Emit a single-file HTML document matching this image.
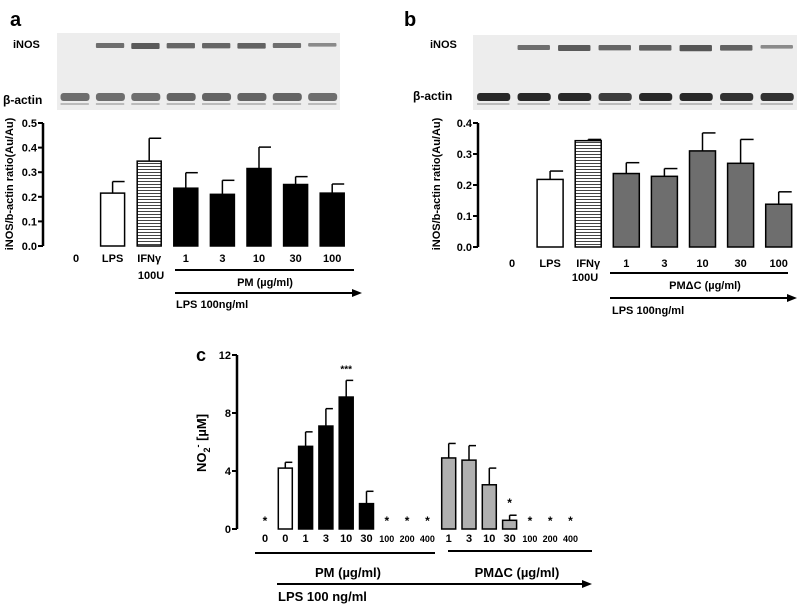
<!DOCTYPE html>
<html><head><meta charset="utf-8"><style>
body{margin:0;background:#fff;}
svg{display:block;font-family:"Liberation Sans",Arial,sans-serif;font-weight:bold;}
</style></head><body>
<svg id="fig" width="798" height="605" viewBox="0 0 798 605" xmlns="http://www.w3.org/2000/svg">
<g id="static">
  <text x="10" y="26" font-size="20">a</text>
  <text x="404" y="26" font-size="20">b</text>
  <text x="196" y="361" font-size="18">c</text>
</g>
<g id="blots"></g>
<g id="pa"></g><g id="pb"></g><g id="pc"></g>
</svg>
<script>
const NS="http://www.w3.org/2000/svg";
function mk(parent,tag,attrs,txt){const e=document.createElementNS(NS,tag);for(const k in attrs)e.setAttribute(k,attrs[k]);if(txt!==undefined)e.textContent=txt;parent.appendChild(e);return e;}

// ---- data ----
const catsA=["0","LPS","IFNγ","1","3","10","30","100"];
const valsA=[0,0.215,0.345,0.235,0.21,0.315,0.25,0.215];
const errA=[0,0.262,0.438,0.298,0.267,0.402,0.282,0.252];
const ticksA=[0,0.1,0.2,0.3,0.4,0.5];
const catsB=["0","LPS","IFNγ","1","3","10","30","100"];
const valsB=[0,0.218,0.343,0.237,0.228,0.31,0.27,0.138];
const errB=[0,0.245,0.347,0.272,0.253,0.368,0.347,0.178];
const ticksB=[0,0.1,0.2,0.3,0.4];
const catsC=["0","0","1","3","10","30","100","200","400","1","3","10","30","100","200","400"];
const valsC=[0,4.2,5.7,7.1,9.1,1.75,0,0,0,4.9,4.75,3.05,0.6,0,0,0];
const errC=[0,4.6,6.7,8.3,10.25,2.6,0,0,0,5.9,5.75,4.2,0.95,0,0,0];
const sigC=["*","","","","***","","*","*","*","","","","*","*","*","*"];
const ticksC=[0,4,8,12];

// ---- blots ----
const bl=document.getElementById('blots');
function blot(x,y,w,h,lanes,iStr,aStr,name){
  const g=mk(bl,'g',{});
  
  
  mk(g,'rect',{x:x,y:y,width:w,height:h,fill:'#ededed'});
  const lw=w/lanes;
  for(let i=0;i<lanes;i++){
    const cx=x+lw*i+lw*0.1;
    if(iStr[i]>0) mk(g,'rect',{x:cx,y:y+10,width:lw*0.8,height:3+iStr[i]*2,fill:'rgb('+(150-iStr[i]*40)+','+(150-iStr[i]*40)+','+(150-iStr[i]*40)+')',rx:1});
    mk(g,'rect',{x:cx,y:y+h-17,width:lw*0.82,height:8,fill:'rgb('+aStr[i]+','+aStr[i]+','+aStr[i]+')',rx:3});
    mk(g,'rect',{x:cx,y:y+h-7,width:lw*0.8,height:2,fill:'#bbb'});
  }
}
blot(57,33,283,77,8,[0,1,1.5,1.2,1.2,1.3,1,0.3],[110,110,110,100,100,100,100,110],'western-blot-a');
blot(473,35,324,75,8,[0,1,1.5,1.2,1.3,1.6,1.3,0.3],[40,40,40,60,40,40,50,50],'western-blot-b');
function t(p,x,y,s,txt,name,anchor){const e=mk(p,'text',{x:x,y:y,'font-size':s,'text-anchor':anchor||'start'},txt);return e;}
t(bl,13,48,11,'iNOS','inos-label-a');
t(bl,3,104,12,'β-actin','beta-actin-label-a');
t(bl,430,48,11,'iNOS','inos-label-b');
t(bl,413,100,12,'β-actin','beta-actin-label-b');

// ---- bar panel generic ----
function panel(gid,o){
  const g=document.getElementById(gid);
  const y=v=>o.y0-(v-o.vmin)/(o.vmax-o.vmin)*(o.y0-o.y1);
  const x=i=>o.xs0+i*o.step+(o.gapAt!==undefined&&i>=o.gapAt?o.gap:0);
  const ax=mk(g,'line',{x1:o.ax,y1:o.y1,x2:o.ax,y2:o.y0,stroke:'#000','stroke-width':2.5});
  
  o.ticks.forEach(v=>{
    mk(g,'line',{x1:o.ax-5,y1:y(v),x2:o.ax,y2:y(v),stroke:'#000','stroke-width':2});
    t(g,o.ax-6,y(v)+4,11,o.fmt(v),gid+'-y-tick','end');
  });
  if(o.ylab){
    const yl=t(g,0,0,o.ylfs||11,o.ylab,gid+'-y-axis-title','middle');
    yl.setAttribute('transform','translate('+o.ylx+','+o.yly+') rotate(-90)');
  }
  o.vals.forEach((v,i)=>{
    const cx=x(i);
    if(v>0){
      const e=o.err[i];
      mk(g,'line',{x1:cx,y1:y(e),x2:cx,y2:y(v),stroke:'#000','stroke-width':1.5});
      mk(g,'line',{x1:cx,y1:y(e),x2:cx+o.bw/2,y2:y(e),stroke:'#000','stroke-width':1.5});
      const r=mk(g,'rect',{x:cx-o.bw/2,y:y(v),width:o.bw,height:y(0)-y(v),fill:o.fill(i),stroke:'#000','stroke-width':1.5});
      
      
    }
    t(g,cx,o.ly,o.lfs(i),o.cats[i],gid+'-x-label','middle');
    if(o.sig&&o.sig[i]){
      const sy=(v>0?y(o.err[i])-8:y(0)-4);
      t(g,cx,sy,o.sig[i]==='***'?10:12,o.sig[i],gid+'-significance-mark','middle');
    }
  });
  return {x,y};
}

const defs=mk(document.getElementById('fig'),'defs',{});
const pat=mk(defs,'pattern',{id:'hatch',width:4,height:3,patternUnits:'userSpaceOnUse'});
mk(pat,'rect',{width:4,height:3,fill:'#fff'});
mk(pat,'line',{x1:0,y1:1.5,x2:4,y2:1.5,stroke:'#444','stroke-width':1});

const fillAB=(dark)=>i=>i===1?'#fff':i===2?'url(#hatch)':dark;
panel('pa',{cats:catsA,vals:valsA,err:errA,ticks:ticksA,vmin:0,vmax:0.5,y0:246,y1:123,ax:43,xs0:76,step:36.6,bw:24,
  fmt:v=>v.toFixed(1),ylab:'iNOS/b-actin ratio(Au/Au)',ylx:13,yly:184,ly:262,lfs:()=>11,fill:fillAB('#000')});
panel('pb',{cats:catsB,vals:valsB,err:errB,ticks:ticksB,vmin:0,vmax:0.4,y0:247,y1:123,ax:478,xs0:512,step:38.1,bw:26,
  fmt:v=>v.toFixed(1),ylab:'iNOS/b-actin ratio(Au/Au)',ylx:440,yly:184,ly:267,lfs:()=>11,fill:fillAB('#6e6e6e')});
panel('pc',{cats:catsC,vals:valsC,err:errC,sig:sigC,ticks:ticksC,vmin:0,vmax:12,y0:529,y1:355,ax:237,xs0:265,step:20.3,bw:14,gapAt:9,gap:1,
  fmt:v=>String(v),ylab:'',ylx:203,yly:443,ly:542,lfs:i=>(i>=6&&i<=8)||i>=13?9:11,fill:i=>i===1?'#fff':i<9?'#000':'#b0b0b0'});

const pc=document.getElementById('pc');
const nl=mk(pc,'text',{'font-size':13,'text-anchor':'middle',transform:'translate(206,443) rotate(-90)'});

nl.innerHTML='NO<tspan font-size="9" dy="4">2</tspan><tspan font-size="9" dy="-9">-</tspan><tspan dy="5"> [µM]</tspan>';

const ann=mk(document.getElementById('fig'),'g',{});

function ln(x1,y1,x2,y2,name){const e=mk(ann,'line',{x1,y1,x2,y2,stroke:'#000','stroke-width':2});}
function arrow(x1,x2,y,name){ln(x1,y,x2-8,y,name);mk(ann,'polygon',{points:(x2-10)+','+(y-4)+' '+x2+','+y+' '+(x2-10)+','+(y+4),fill:'#000'});}
// a
t(ann,151,279,11,'100U','a-ifn-dose','middle');
ln(175,270,354,270,'a-pm-bracket');
t(ann,265,286,11,'PM (µg/ml)','a-pm-label','middle');
arrow(175,362,293,'a-lps-arrow');
t(ann,176,308,11,'LPS 100ng/ml','a-lps-label');
// b
t(ann,585,281,11,'100U','b-ifn-dose','middle');
ln(610,273,788,273,'b-pmdc-bracket');
t(ann,705,289,11,'PMΔC  (µg/ml)','b-pmdc-label','middle');
arrow(610,797,298,'b-lps-arrow');
t(ann,612,314,11,'LPS 100ng/ml','b-lps-label');
// c
ln(255,553,435,553,'c-pm-bracket');
ln(448,551,592,551,'c-pmdc-bracket');
t(ann,348,577,13,'PM (µg/ml)','c-pm-label','middle');
t(ann,517,577,13,'PMΔC (µg/ml)','c-pmdc-label','middle');
arrow(277,592,584,'c-lps-arrow');
t(ann,278,601,13,'LPS 100 ng/ml','c-lps-label');
</script>
</body></html>
